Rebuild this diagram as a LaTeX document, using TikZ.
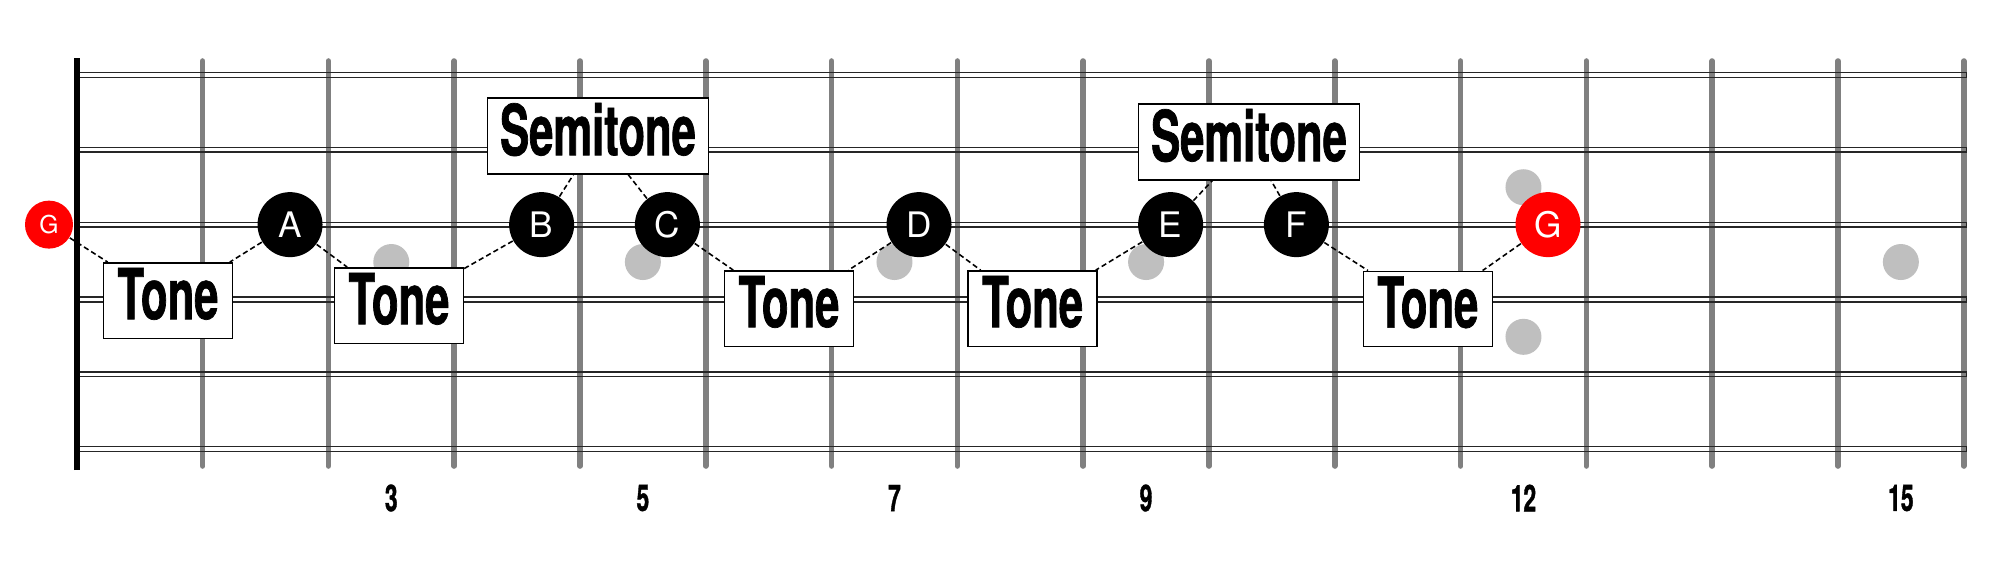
\documentclass[tikz,border=0pt]{standalone}
\usepackage{fontspec}
\setmainfont{TeX Gyre Heros}
\newfontfamily\condfont{TeX Gyre Heros}[FakeStretch=0.62, FakeBold=1]

\begin{document}
\begin{tikzpicture}[
    x=1.258cm, y=0.748cm,
    fret/.style={draw=gray, line width=1.6pt, line cap=round},
    nut/.style={draw=black, line width=1.7pt},
    string/.style={draw=black!85, line width=0.45pt},
    inlay/.style={fill=black!25},
    note/.style={circle, fill=black, text=white, minimum size=0.65cm, inner sep=0pt, font=\fontsize{10}{12}\selectfont},
    root/.style={note, fill=red},
    openroot/.style={root, minimum size=0.48cm, font=\fontsize{7}{8}\selectfont},
    tonebox/.style={draw=black, fill=white, line width=0.4pt, inner sep=0pt, minimum width=1.29cm, minimum height=0.755cm, text depth=0.14cm, font=\condfont\bfseries\fontsize{20}{24}\selectfont},
    semibox/.style={tonebox, minimum width=2.21cm, minimum height=0.76cm},
    fretnum/.style={font=\condfont\bfseries\fontsize{10.5}{12}\selectfont},
    link/.style={draw=black, line width=0.45pt, dash pattern=on 1.5pt off 0.9pt}
]
\useasboundingbox[fill=white] (-0.6105,-1.484) rectangle (15.288,6.003);

% frets
\draw[fret] (1,-0.227) -- (1,5.187);
\draw[fret] (2,-0.227) -- (2,5.187);
\draw[fret] (3,-0.227) -- (3,5.187);
\draw[fret] (4,-0.227) -- (4,5.187);
\draw[fret] (5,-0.227) -- (5,5.187);
\draw[fret] (6,-0.227) -- (6,5.187);
\draw[fret] (7,-0.227) -- (7,5.187);
\draw[fret] (8,-0.227) -- (8,5.187);
\draw[fret] (9,-0.227) -- (9,5.187);
\draw[fret] (10,-0.227) -- (10,5.187);
\draw[fret] (11,-0.227) -- (11,5.187);
\draw[fret] (12,-0.227) -- (12,5.187);
\draw[fret] (13,-0.227) -- (13,5.187);
\draw[fret] (14,-0.227) -- (14,5.187);
\draw[fret] (15,-0.227) -- (15,5.187);

% strings
\draw[string] (0,4.969) rectangle (15.02,5.031);
\draw[string] (0,3.969) rectangle (15.02,4.031);
\draw[string] (0,2.969) rectangle (15.02,3.031);
\draw[string] (0,1.969) rectangle (15.02,2.031);
\draw[string] (0,0.969) rectangle (15.02,1.031);
\draw[string] (0,-0.031) rectangle (15.02,0.031);

\draw[nut] (0,-0.281) -- (0,5.227);

% inlays
\fill[inlay] (2.5,2.5) circle (0.18cm);
\fill[inlay] (4.5,2.5) circle (0.18cm);
\fill[inlay] (6.5,2.5) circle (0.18cm);
\fill[inlay] (8.5,2.5) circle (0.18cm);
\fill[inlay] (11.5,3.5) circle (0.18cm);
\fill[inlay] (11.5,1.5) circle (0.18cm);
\fill[inlay] (14.5,2.5) circle (0.18cm);

\node[fretnum](n3) at (2.5,-0.655) {3};
\node[fretnum](n5) at (4.5,-0.655) {5};
\node[fretnum](n7) at (6.5,-0.655) {7};
\node[fretnum](n9) at (8.5,-0.655) {9};
\node[fretnum](n12) at (11.5,-0.655) {12};
\node[fretnum](n15) at (14.5,-0.655) {15};

% scale notes on the G string
\node[openroot](g0) at (-0.221,3) {G};
\node[note](a) at (1.695,3) {A};
\node[note](b) at (3.695,3) {B};
\node[note](c) at (4.695,3) {C};
\node[note](d) at (6.695,3) {D};
\node[note](e) at (8.695,3) {E};
\node[note](f) at (9.695,3) {F};
\node[root](g12) at (11.695,3) {G};

% steps
\node[tonebox](t1) at (0.725,1.985) {Tone};
\node[tonebox](t2) at (2.561,1.918) {Tone};
\node[semibox](s1) at (4.143,4.184) {Semitone};
\node[tonebox](t3) at (5.661,1.878) {Tone};
\node[tonebox](t4) at (7.598,1.878) {Tone};
\node[semibox](s2) at (9.318,4.104) {Semitone};
\node[tonebox](t5) at (10.74,1.872) {Tone};

\draw[link] (g0) -- (t1);
\draw[link] (a) -- (t1);
\draw[link] (a) -- (t2);
\draw[link] (b) -- (t2);
\draw[link] (b) -- (s1);
\draw[link] (c) -- (s1);
\draw[link] (c) -- (t3);
\draw[link] (d) -- (t3);
\draw[link] (d) -- (t4);
\draw[link] (e) -- (t4);
\draw[link] (e) -- (s2);
\draw[link] (f) -- (s2);
\draw[link] (f) -- (t5);
\draw[link] (g12) -- (t5);
\end{tikzpicture}
\end{document}
